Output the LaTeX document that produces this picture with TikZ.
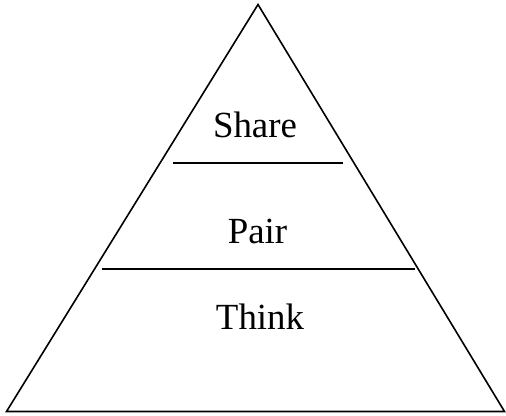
\documentclass[tikz,border=0pt]{standalone}
\usepackage{fontspec}
\setmainfont{Liberation Serif}
\begin{document}
\begin{tikzpicture}[x=1bp,y=-1bp,
  edge/.style={line width=1.6bp,line join=miter},
  lbl/.style={anchor=base,inner sep=0pt,font=\fontsize{37}{40}\selectfont}]
\useasboundingbox (0,0) rectangle (506,415);
\coordinate (apex) at (258,4.5);
\coordinate (bl) at (6.5,411.5);
\coordinate (br) at (504.5,411.5);
\draw[edge] (apex) -- (bl) -- (br) -- cycle;
\coordinate (l1a) at (173,162.7);
\coordinate (l1b) at (343,162.7);
\coordinate (l2a) at (102,269);
\coordinate (l2b) at (415,269);
\draw[edge] (l1a) -- (l1b);
\draw[edge] (l2a) -- (l2b);
\node[lbl] (share) at (255,137.7) {Share};
\node[lbl] (pair) at (257.5,243) {Pair};
\node[lbl] (think) at (260,329) {Think};
\end{tikzpicture}
\end{document}
